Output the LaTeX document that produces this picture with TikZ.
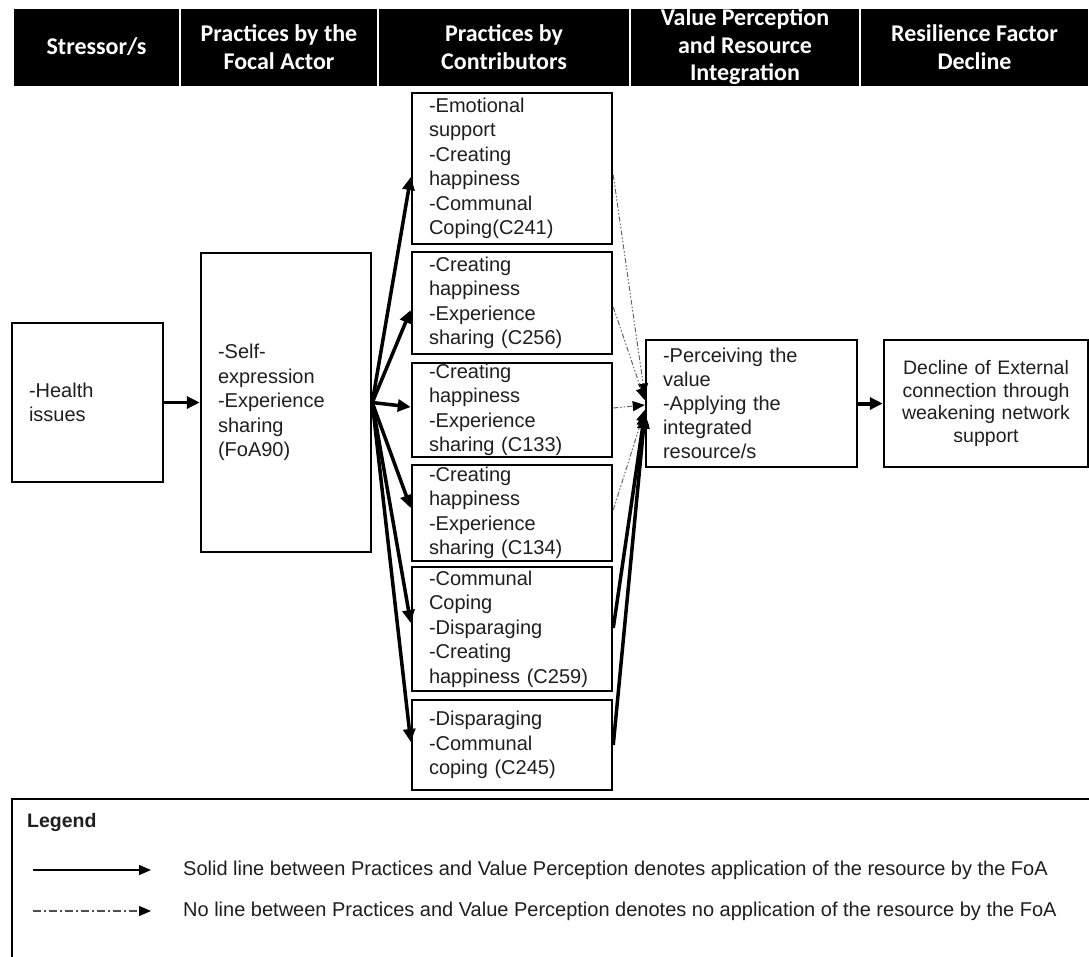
\documentclass[tikz,border=0pt]{standalone}
\usepackage{fontspec}
\setmainfont{Liberation Sans}
\newfontfamily\headfont{Carlito}
\usetikzlibrary{arrows.meta}
\begin{document}
\begin{tikzpicture}[x=1pt,y=-1pt,
  headcell/.style={fill=black, text=white, align=center, inner sep=0pt,
    minimum height=77pt, font=\headfont\bfseries\fontsize{24}{27.5}\selectfont},
  box/.style={draw=black, line width=2.5pt, fill=white, text=black!88,
    font=\fontsize{20}{24.5}\selectfont, align=left, inner xsep=17pt, inner ysep=0pt},
  flow/.style={line width=3.5pt, -{Triangle[length=13pt,width=12pt]}},
  nouse/.style={line width=1pt, draw=black!60,
    dash pattern=on 5pt off 2pt on 1.5pt off 2pt on 1.5pt off 2pt,
    -{Triangle[length=12pt,width=10pt,color=black]}},
  legtext/.style={anchor=west, text=black!88, font=\fontsize{20}{24}\selectfont, inner sep=0pt}
]
\useasboundingbox (0,0) rectangle (1089,956);
\clip (0,0) rectangle (1089,956);
\fill[white] (0,0) rectangle (1089,956);

% column headings
\node[headcell, minimum width=165pt] (h1) at (96.5,47) {Stressor/s};
\node[headcell, minimum width=196pt] (h2) at (279,47) {Practices by the\\Focal Actor};
\node[headcell, minimum width=250pt] (h3) at (504,47) {Practices by\\Contributors};
\node[headcell, minimum width=228pt] (h4) at (745,47) {Value Perception\\and Resource\\Integration};
\node[headcell, minimum width=227pt] (h5) at (974.5,47) {Resilience Factor\\Decline};

% stressor and focal actor
\node[box, text width=117pt, minimum height=159pt] (health) at (87.5,402.5)
  {-Health\\issues};
\node[box, text width=136pt, minimum height=299pt] (self) at (286,402.5)
  {-Self-\\expression\\-Experience\\sharing\\(FoA90)};

% contributors
\node[box, text width=166pt, minimum height=151pt] (c1) at (512,168.5)
  {-Emotional\\support\\-Creating\\happiness\\-Communal\\Coping(C241)};
\node[box, text width=166pt, minimum height=102pt] (c2) at (512,303)
  {-Creating\\happiness\\-Experience\\sharing (C256)};
\node[box, text width=166pt, minimum height=94pt] (c3) at (512,410)
  {-Creating\\happiness\\-Experience\\sharing (C133)};
\node[box, text width=166pt, minimum height=96pt] (c4) at (512,513)
  {-Creating\\happiness\\-Experience\\sharing (C134)};
\node[box, text width=166pt, minimum height=124pt] (c5) at (512,629)
  {-Communal\\Coping\\-Disparaging\\-Creating\\happiness (C259)};
\node[box, text width=166pt, minimum height=90pt] (c6) at (512,745)
  {-Disparaging\\-Communal\\coping (C245)};

% value perception and decline
\node[box, text width=177pt, minimum height=127pt, font=\fontsize{20}{24}\selectfont]
  (perc) at (751.5,403.5)
  {-Perceiving the\\value\\-Applying the\\integrated\\resource/s};
\node[box, align=center, inner xsep=5pt, text width=194pt, minimum height=127pt,
  font=\fontsize{19.5}{22.5}\selectfont] (decl) at (986,403.5)
  {Decline of External\\connection through\\weakening network\\support};

% connectors
\draw[flow] (health.east) -- (self.west);
\foreach \n/\s in {c1/-8.5, c2/-7, c3/3, c4/5, c5/6, c6/3}
  \draw[flow] (self.east) -- ([yshift=\s pt]\n.west);

\draw[nouse] ([yshift=-6.5pt]c1.east) -- ([yshift=8pt]perc.west);
\draw[nouse] ([yshift=-4pt]c2.east) -- ([yshift=3.5pt]perc.west);
\draw[nouse] ([yshift=2pt]c3.east) -- ([yshift=-1.5pt]perc.west);
\draw[nouse] ([yshift=3pt]c4.east) -- ([yshift=-6.5pt]perc.west);
\draw[flow] ([yshift=1pt]c5.east) -- ([yshift=-9pt]perc.west);
\draw[flow] (c6.east) -- ([yshift=-12pt]perc.west);

\draw[flow, line width=4pt] (perc.east) -- (decl.west);

% legend
\draw[line width=2pt] (12,799) rectangle (1110,980);
\node[anchor=west, inner sep=0pt, font=\bfseries\fontsize{19.5}{22}\selectfont, text=black!88]
  (legtitle) at (27,822) {Legend};
\coordinate (la1) at (33,870);
\coordinate (la2) at (151,870);
\coordinate (lb1) at (33,911);
\coordinate (lb2) at (151,911);
\draw[line width=1.4pt, -{Triangle[length=12pt,width=10pt]}] (la1) -- (la2);
\draw[line width=1.2pt, draw=black!70,
  dash pattern=on 8pt off 3pt on 2pt off 3pt,
  -{Triangle[length=12pt,width=10pt,color=black]}] (lb1) -- (lb2);
\node[legtext] (leg1) at (183,870)
  {Solid line between Practices and Value Perception denotes application of the resource by the FoA};
\node[legtext] (leg2) at (183,911)
  {No line between Practices and Value Perception denotes no application of the resource by the FoA};
\end{tikzpicture}
\end{document}
